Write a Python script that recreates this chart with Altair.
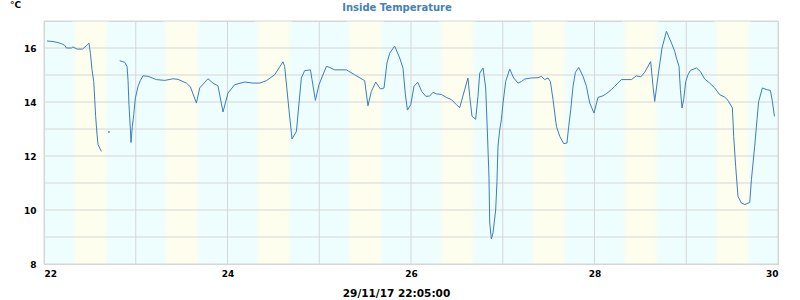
import altair as alt
import pandas as pd

# ---- data ----
seg1_day = [22.033, 22.098, 22.153, 22.19, 22.226, 22.244, 22.299, 22.316, 22.36, 22.419,
            22.462, 22.49, 22.506, 22.523, 22.542, 22.553, 22.563, 22.578, 22.589, 22.626]
seg1_temp = [16.26, 16.24, 16.2, 16.16, 16.1, 16.0, 16.0, 16.04, 15.96, 15.96,
             16.08, 16.18, 15.8, 15.2, 14.76, 14.09, 13.47, 12.8, 12.42, 12.17]

lone_day = [22.708]
lone_temp = [12.89]

seg2_day = [22.825, 22.88, 22.905, 22.916, 22.926, 22.942, 22.948, 22.963, 22.978, 22.996,
            23.025, 23.051, 23.079, 23.134, 23.225, 23.316, 23.406, 23.46, 23.552, 23.596,
            23.661, 23.697, 23.787, 23.842, 23.896, 23.951, 24.005, 24.078, 24.187, 24.278,
            24.351, 24.424, 24.514, 24.605, 24.623, 24.67, 24.703, 24.751, 24.805, 24.841,
            24.904, 24.921, 24.958, 24.997, 25.078, 25.114, 25.168, 25.296, 25.386, 25.495,
            25.531, 25.568, 25.615, 25.667, 25.706, 25.738, 25.768, 25.822, 25.877, 25.913,
            25.939, 25.961, 25.997, 26.033, 26.073, 26.117, 26.162, 26.204, 26.24, 26.277,
            26.331, 26.386, 26.44, 26.495, 26.531, 26.585, 26.621, 26.64, 26.665, 26.705,
            26.73, 26.749, 26.785, 26.814, 26.833, 26.85, 26.858, 26.876, 26.894, 26.923,
            26.937, 26.948, 26.967, 26.985, 27.003, 27.032, 27.076, 27.119, 27.166, 27.203,
            27.239, 27.312, 27.384, 27.421, 27.457, 27.493, 27.519, 27.548, 27.585, 27.621,
            27.664, 27.7, 27.719, 27.741, 27.766, 27.792, 27.828, 27.875, 27.912, 27.948,
            27.995, 28.038, 28.093, 28.13, 28.184, 28.22, 28.293, 28.402, 28.457, 28.504,
            28.547, 28.612, 28.638, 28.656, 28.692, 28.736, 28.784, 28.838, 28.874, 28.893,
            28.921, 28.936, 28.954, 28.972, 28.994, 29.019, 29.045, 29.111, 29.154, 29.201,
            29.256, 29.31, 29.365, 29.419, 29.455, 29.503, 29.517, 29.539, 29.564, 29.601,
            29.637, 29.692, 29.71, 29.746, 29.771, 29.789, 29.83, 29.874, 29.917, 29.939,
            29.961]
seg2_temp = [15.53, 15.47, 15.32, 14.8, 13.9, 12.97, 12.5, 13.1, 13.53, 14.15,
             14.58, 14.8, 14.97, 14.95, 14.83, 14.8, 14.86, 14.84, 14.7, 14.56,
             13.96, 14.52, 14.86, 14.7, 14.6, 13.63, 14.33, 14.64, 14.74, 14.7,
             14.7, 14.79, 15.01, 15.49, 15.32, 13.71, 12.63, 12.91, 14.89, 15.16,
             15.19, 14.83, 14.06, 14.64, 15.32, 15.28, 15.19, 15.19, 15.01, 14.79,
             13.86, 14.39, 14.74, 14.48, 14.52, 15.44, 15.81, 16.07, 15.63, 15.25,
             14.27, 13.7, 13.9, 14.58, 14.73, 14.39, 14.21, 14.22, 14.36, 14.3,
             14.28, 14.17, 14.09, 13.9, 13.79, 14.46, 14.89, 14.21, 13.47, 13.36,
             14.21, 15.07, 15.26, 14.52, 12.85, 11.2, 9.52, 8.93, 9.15, 10.0,
             11.06, 12.36, 12.97, 13.34, 13.96, 14.76, 15.22, 14.89, 14.7, 14.76,
             14.85, 14.89, 14.9, 14.95, 14.83, 14.89, 14.76, 14.09, 13.1, 12.73,
             12.46, 12.48, 13.1, 13.71, 14.58, 15.1, 15.28, 14.95, 14.58, 13.96,
             13.59, 14.17, 14.23, 14.31, 14.46, 14.58, 14.83, 14.83, 14.97, 14.93,
             15.1, 15.5, 14.58, 14.02, 14.95, 16.0, 16.62, 16.19, 15.88, 15.63,
             15.32, 14.46, 13.78, 14.09, 14.76, 15.01, 15.17, 15.26, 15.13, 14.85,
             14.7, 14.52, 14.27, 14.18, 14.06, 13.78, 12.73, 11.61, 10.5, 10.26,
             10.2, 10.28, 11.12, 12.36, 13.34, 14.02, 14.52, 14.46, 14.43, 14.02,
             13.47]

band_days = [22, 23, 24, 25, 26, 27, 28, 29]
daylight_from = 0.30   # fraction of day
daylight_to = 0.705

x_ticks = [22, 23, 24, 25, 26, 27, 28, 29, 30]
y_ticks = [8, 9, 10, 11, 12, 13, 14, 15, 16, 17]

title_text = "Inside Temperature"
unit_text = "°C"
time_text = "29/11/17 22:05:00"

# ---- build tables ----
line_df = pd.DataFrame({
    "day": seg1_day + seg2_day,
    "temp": seg1_temp + seg2_temp,
    "seg": ["a"] * len(seg1_day) + ["b"] * len(seg2_day),
})
lone_df = pd.DataFrame({"day": lone_day, "temp": lone_temp})
band_df = pd.DataFrame({"start": [d + daylight_from for d in band_days],
                        "end": [d + daylight_to for d in band_days]})
xgrid_df = pd.DataFrame({"v": x_ticks})
ygrid_df = pd.DataFrame({"v": y_ticks})
text_df = pd.DataFrame({"label": [title_text, unit_text],
                        "kind": ["title", "unit"]})

CYAN = "#eefdfd"
YELLOW = "#fdfeee"
LINE = "#3b7dbd"
GRID = "#d6d6d6"
FONT = "DejaVu Sans"

xscale = alt.Scale(domain=[22, 30], nice=False, zero=False)
yscale = alt.Scale(domain=[8, 17], nice=False, zero=False)

x_axis = alt.Axis(values=x_ticks, grid=False, ticks=False, domain=False,
                  labelExpr="datum.value % 2 == 0 ? datum.value : ''",
                  labelFont=FONT, labelFontWeight="bold", labelFontSize=9, labelColor="#000",
                  labelPadding=5, title=time_text, titleFont=FONT, titleFontWeight="bold",
                  titleFontSize=10.5, titleColor="#000", titleX=352, titleY=32,
                  titleBaseline="alphabetic", titleAnchor="start", titleAlign="center")
y_axis = alt.Axis(values=y_ticks, grid=False, ticks=False, domain=False,
                  labelExpr="datum.value % 2 == 0 ? datum.value : ''",
                  labelFont=FONT, labelFontWeight="bold", labelFontSize=9, labelColor="#000",
                  labelPadding=8, title=None)

bands = alt.Chart(band_df).mark_rect(
    color=alt.Gradient(gradient="linear", x1=0, x2=1, y1=0, y2=0,
                       stops=[alt.GradientStop(color=CYAN, offset=0),
                              alt.GradientStop(color=YELLOW, offset=0.14),
                              alt.GradientStop(color=YELLOW, offset=0.86),
                              alt.GradientStop(color=CYAN, offset=1)])
).encode(
    x=alt.X("start:Q", scale=xscale, axis=x_axis),
    x2="end:Q",
    y=alt.value(0),
    y2=alt.value(243),
)

xgrid = alt.Chart(xgrid_df).mark_rule(color=GRID, strokeWidth=1).encode(
    x=alt.X("v:Q", scale=xscale),
)
ygrid = alt.Chart(ygrid_df).mark_rule(color=GRID, strokeWidth=1).encode(
    y=alt.Y("v:Q", scale=yscale, axis=y_axis),
)

line = alt.Chart(line_df).mark_line(color=LINE, strokeWidth=1, interpolate="linear").encode(
    x=alt.X("day:Q", scale=xscale),
    y=alt.Y("temp:Q", scale=yscale),
    detail="seg:N",
)

lone = alt.Chart(lone_df).mark_circle(color=LINE, size=3, opacity=1).encode(
    x=alt.X("day:Q", scale=xscale),
    y=alt.Y("temp:Q", scale=yscale),
)

title_mark = alt.Chart(text_df).transform_filter("datum.kind == 'title'").mark_text(
    font=FONT, fontWeight="bold", fontSize=10, color="#4682b4",
    align="center", baseline="alphabetic"
).encode(text="label:N", x=alt.value(353), y=alt.value(-10))

unit_mark = alt.Chart(text_df).transform_filter("datum.kind == 'unit'").mark_text(
    font=FONT, fontWeight="bold", fontSize=9, color="#000",
    align="left", baseline="alphabetic"
).encode(text="label:N", x=alt.value(-34), y=alt.value(-13))

chart = alt.layer(bands, xgrid, ygrid, line, lone, title_mark, unit_mark).properties(
    width=734, height=243,
    background="white",
    autosize=alt.AutoSizeParams(type="none"),
    padding={"left": 44, "top": 21, "right": 22, "bottom": 36},
).configure_view(fill=CYAN, stroke=GRID, strokeWidth=1)

chart.save("out.html", embed_options={"renderer": "svg", "actions": False})
